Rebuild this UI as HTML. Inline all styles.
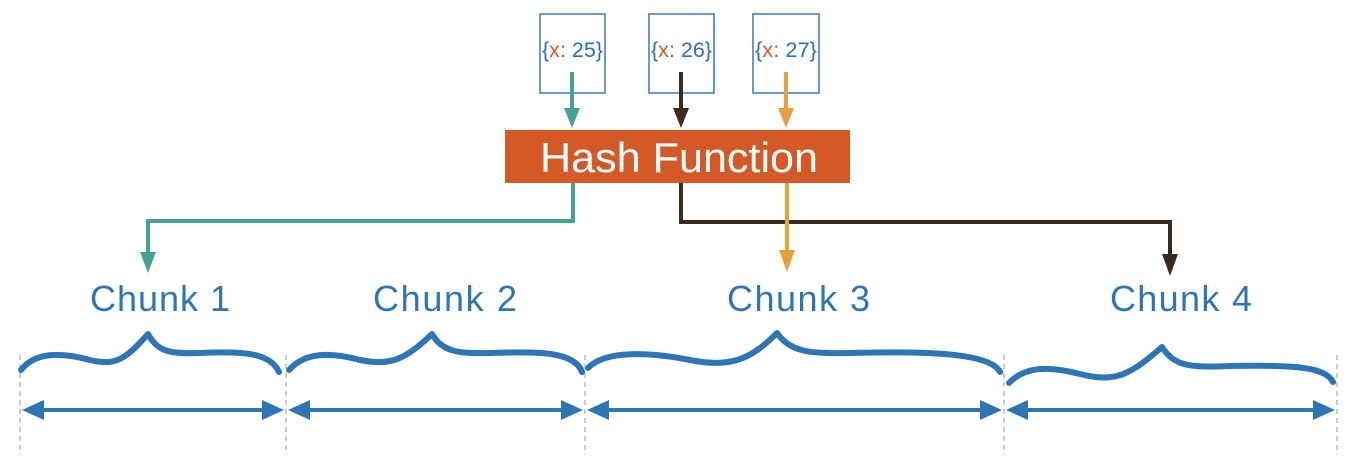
<!DOCTYPE html>
<html><head><meta charset="utf-8"><style>
html,body{margin:0;padding:0;background:#fff;}
svg{display:block}
</style></head><body>
<svg width="1360" height="476" viewBox="0 0 1360 476" xmlns="http://www.w3.org/2000/svg" font-family="'Liberation Sans', sans-serif">
<g fill="none" stroke="#3a78b8" stroke-width="1.5">
<rect x="540" y="14" width="65" height="79"/>
<rect x="649" y="14" width="65" height="79"/>
<rect x="753" y="14" width="66" height="79"/>
</g>
<g font-size="21" fill="#2e6fae">
<text x="542" y="57" textLength="61" lengthAdjust="spacingAndGlyphs">{<tspan fill="#d25a2a">x</tspan>: 25}</text>
<text x="651" y="57" textLength="61" lengthAdjust="spacingAndGlyphs">{<tspan fill="#d25a2a">x</tspan>: 26}</text>
<text x="755" y="57" textLength="62" lengthAdjust="spacingAndGlyphs">{<tspan fill="#d25a2a">x</tspan>: 27}</text>
</g>
<line x1="572" y1="72" x2="572" y2="110" stroke="#45a197" stroke-width="4"/>
<polygon points="564,108 580,108 572,128" fill="#45a197"/>
<line x1="681" y1="72" x2="681" y2="110" stroke="#3b2a1d" stroke-width="4"/>
<polygon points="673,108 689,108 681,128" fill="#3b2a1d"/>
<line x1="786" y1="72" x2="786" y2="110" stroke="#e6a23a" stroke-width="4"/>
<polygon points="778,108 794,108 786,128" fill="#e6a23a"/>
<rect x="505" y="130" width="345" height="53" fill="#d35a27"/>
<text x="540" y="172" font-size="42" fill="#fff" textLength="278" lengthAdjust="spacingAndGlyphs">Hash Function</text>
<polyline points="573,183 573,221 148,221 148,255" fill="none" stroke="#45a197" stroke-width="4"/>
<polygon points="140,252 156,252 148,273" fill="#45a197"/>
<polyline points="681,183 681,222 1170,222 1170,258" fill="none" stroke="#3b2a1d" stroke-width="4"/>
<polygon points="1162,254 1178,254 1170,276" fill="#3b2a1d"/>
<line x1="787" y1="183" x2="787" y2="254" stroke="#e6a23a" stroke-width="4"/>
<polygon points="779,250 795,250 787,272" fill="#e6a23a"/>
<g font-size="36" fill="#2e75b6" lengthAdjust="spacingAndGlyphs">
<text x="90" y="311" textLength="140">Chunk 1</text>
<text x="373" y="311" textLength="144">Chunk 2</text>
<text x="727" y="311" textLength="143">Chunk 3</text>
<text x="1110" y="311" textLength="142">Chunk 4</text>
</g>
<g stroke="#b8d0e2" stroke-width="2" stroke-dasharray="5,4">
<line x1="20" y1="355" x2="20" y2="455"/>
<line x1="286" y1="355" x2="286" y2="455"/>
<line x1="585" y1="355" x2="585" y2="455"/>
<line x1="1004" y1="355" x2="1004" y2="455"/>
<line x1="1337" y1="355" x2="1337" y2="455"/>
</g>
<g fill="none" stroke="#2e75b6" stroke-width="6" stroke-linecap="round" stroke-linejoin="round">
<path d="M21,370 C35,352 60,352 90,360 C115,366 125,360 148,334 C158,352 170,354 200,353 C240,351 270,352 279,372"/>
<path d="M289,370 C305,352 330,352 360,360 C390,366 405,360 432,334 C442,352 460,354 490,353 C540,351 575,352 582,372"/>
<path d="M588,368 C605,350 650,352 690,360 C730,368 750,360 777,333 C790,352 810,354 850,353 C920,351 990,352 1000,372"/>
<path d="M1009,383 C1025,366 1050,366 1080,374 C1115,383 1130,375 1162,347 C1174,366 1190,368 1230,366 C1290,365 1325,366 1333,382"/>
</g>
<g stroke="#2e75b6" stroke-width="4">
<line x1="35" y1="410" x2="265" y2="410"/>
<line x1="302" y1="410" x2="570" y2="410"/>
<line x1="600" y1="410" x2="990" y2="410"/>
<line x1="1019" y1="410" x2="1322" y2="410"/>
</g>
<g fill="#2e75b6">
<polygon points="22,410 44,400 44,420"/><polygon points="284,410 262,400 262,420"/>
<polygon points="288,410 310,400 310,420"/><polygon points="583,410 561,400 561,420"/>
<polygon points="587,410 609,400 609,420"/><polygon points="1002,410 980,400 980,420"/>
<polygon points="1006,410 1028,400 1028,420"/><polygon points="1335,410 1313,400 1313,420"/>
</g>
</svg>
</body></html>
